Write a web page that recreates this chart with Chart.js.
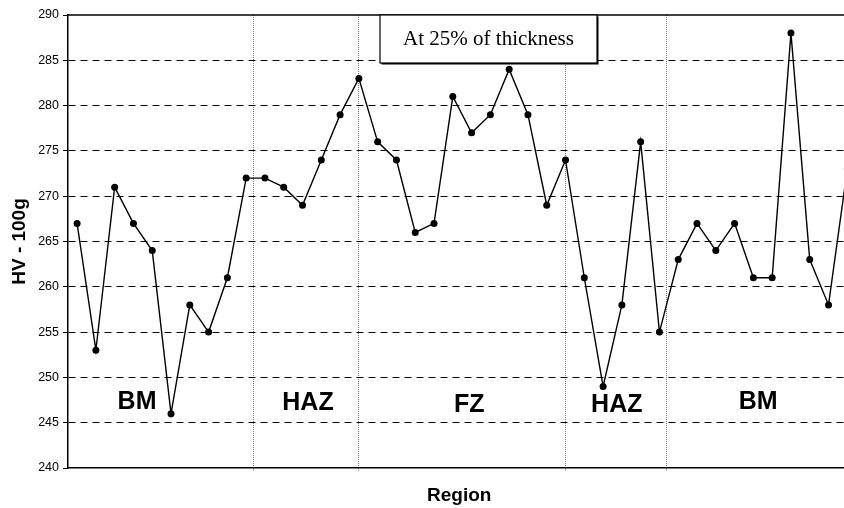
<!DOCTYPE html>
<html>
<head>
<meta charset="utf-8">
<script src="https://cdn.jsdelivr.net/npm/chart.js@4.4.0/dist/chart.umd.min.js"></script>
<style>
  html, body { margin: 0; padding: 0; background: #fff; overflow: hidden; }
  #wrap { width: 854px; height: 508px; }
</style>
</head>
<body>
<div id="wrap"><canvas id="hvChart" width="854" height="508"></canvas></div>
<script>
// Hardness profile across the weld, HV - 100g, at 25% of thickness.

const hardness = [
    267, 253, 271, 267, 264, 246, 258, 255, 261, 272,
    272, 271, 269, 274, 279, 283, 276, 274, 266, 267,
    281, 277, 279, 284, 279, 269, 274, 261, 249, 258,
    276, 255, 263, 267, 264, 267, 261, 261, 288, 263,
    258, 273
];

// region boundaries (in indent index units) and region names
const boundaries = [9.4, 15.0, 26.0, 31.35];
const regionNames = ['BM', 'HAZ', 'FZ', 'HAZ', 'BM'];
const regionCenters = [3.19, 12.29, 20.88, 28.73, 36.25];
const regionLevels = [247.3, 247.2, 246.9, 246.9, 247.3];

const yMin = 240, yMax = 290, yStep = 5;
const xMin = -0.484, xMax = 41.17;

const boxText = 'At 25% of thickness';

const points = hardness.map((v, i) => ({ x: i, y: v }));

// region labels, top frame line and the caption box
const decorations = {
    id: 'decorations',
    afterDatasetsDraw(chart) {
        const { ctx, chartArea: area, scales: { x, y } } = chart;
        ctx.save();

        ctx.strokeStyle = '#000';
        ctx.lineWidth = 1.5;
        ctx.beginPath();
        ctx.moveTo(area.left, area.top);
        ctx.lineTo(area.right, area.top);
        ctx.stroke();

        ctx.fillStyle = '#000';
        ctx.font = 'bold 25px "Liberation Sans", Arial, sans-serif';
        ctx.textAlign = 'center';
        ctx.textBaseline = 'middle';
        regionNames.forEach((name, i) => {
            ctx.fillText(name, x.getPixelForValue(regionCenters[i]), y.getPixelForValue(regionLevels[i]));
        });

        // caption box
        const bx = 380, by = area.top, bw = 217, bh = 48;
        ctx.fillStyle = '#000';
        ctx.fillRect(bx + 1.5, by + 1.5, bw, bh);
        ctx.fillStyle = '#fff';
        ctx.fillRect(bx, by, bw, bh);
        ctx.strokeStyle = '#000';
        ctx.lineWidth = 1.2;
        ctx.strokeRect(bx, by, bw, bh);
        ctx.fillStyle = '#000';
        ctx.font = '21px "Liberation Serif", "Times New Roman", serif';
        ctx.fillText(boxText, bx + bw / 2, by + 24);

        ctx.restore();
    }
};

new Chart(document.getElementById('hvChart'), {
    type: 'line',
    data: {
        datasets: [{
            data: points,
            borderColor: '#000',
            backgroundColor: '#000',
            borderWidth: 1.4,
            pointRadius: 3.5,
            pointHoverRadius: 3.5,
            pointBorderWidth: 0,
            tension: 0
        }]
    },
    options: {
        responsive: false,
        animation: false,
        layout: { padding: { top: 15, right: 0, bottom: 0, left: 0 } },
        plugins: {
            legend: { display: false },
            tooltip: { enabled: false }
        },
        scales: {
            x: {
                type: 'linear',
                min: xMin,
                max: xMax,
                afterBuildTicks: axis => {
                    axis.ticks = boundaries.map(v => ({ value: v }));
                },
                afterFit: axis => { axis.height = 40; },
                ticks: { display: false },
                grid: {
                    color: '#777',
                    lineWidth: 1,
                    drawTicks: true,
                    tickLength: 3,
                    tickColor: '#777',
                    tickBorderDash: [1, 1]
                },
                border: { display: true, color: '#000', width: 1.5, dash: [1, 1] },
                title: {
                    display: true,
                    text: 'Region',
                    color: '#000',
                    font: { family: '"Liberation Sans", Arial, sans-serif', size: 19, weight: 'bold' },
                    padding: { top: 15, bottom: 1 }
                }
            },
            y: {
                min: yMin,
                max: yMax,
                afterFit: axis => { axis.width = 68; },
                ticks: {
                    stepSize: yStep,
                    color: '#000',
                    padding: 4,
                    font: { family: '"Liberation Sans", Arial, sans-serif', size: 12.5 }
                },
                grid: {
                    color: ctx => (ctx.tick && (ctx.tick.value === yMin || ctx.tick.value === yMax)) ? 'rgba(0,0,0,0)' : '#000',
                    lineWidth: 1,
                    drawTicks: true,
                    tickLength: 5,
                    tickColor: '#000'
                },
                border: { display: true, color: '#000', width: 1.5, dash: [7, 5] },
                title: {
                    display: true,
                    text: 'HV - 100g',
                    color: '#000',
                    font: { family: '"Liberation Sans", Arial, sans-serif', size: 19, weight: 'bold' },
                    padding: { top: 8, bottom: 0 }
                }
            }
        }
    },
    plugins: [decorations]
});
</script>
</body>
</html>
